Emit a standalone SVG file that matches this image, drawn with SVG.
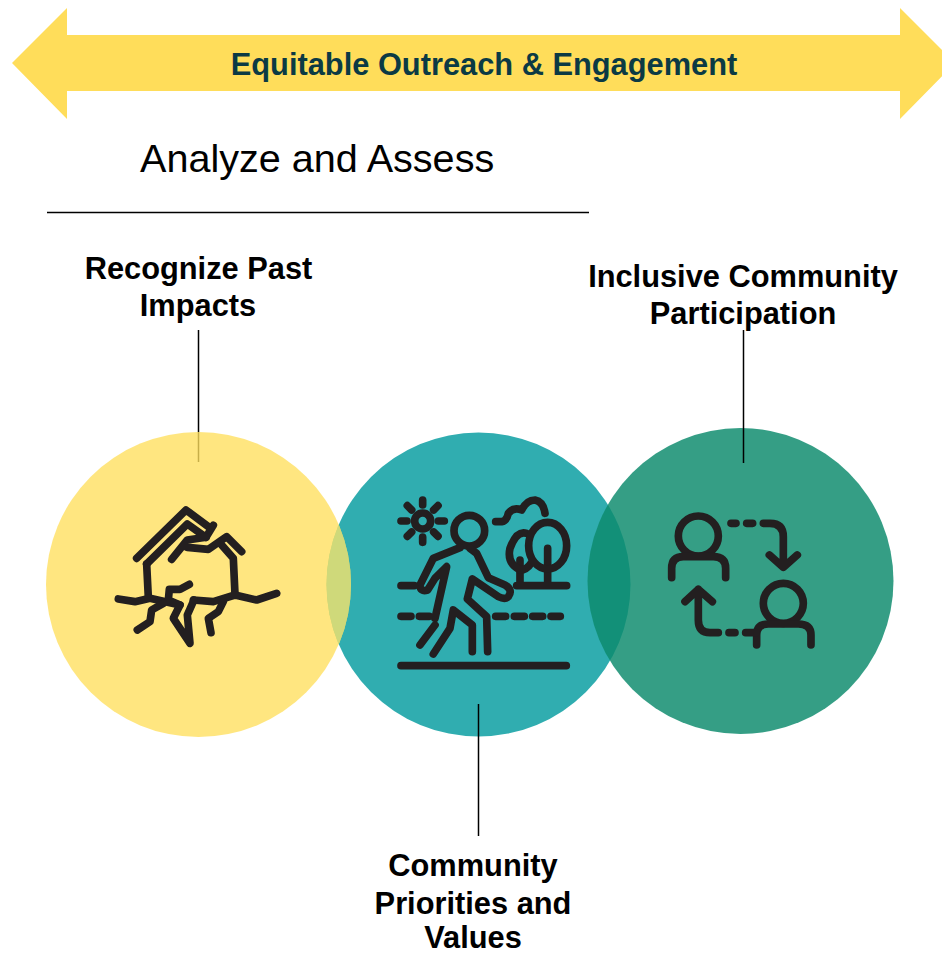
<svg xmlns="http://www.w3.org/2000/svg" width="942" height="954" viewBox="0 0 942 954">
<style>
text{font-family:"Liberation Sans",Arial,sans-serif}
.l{font-size:30.8px;font-weight:700;fill:#000;text-anchor:middle}
.i{fill:none;stroke:#231f20;stroke-width:23;stroke-linecap:round;stroke-linejoin:round}
.c{stroke:#000;stroke-width:1.5;fill:none}
</style>
<defs>
<clipPath id="teal"><circle cx="478.500" cy="584.500" r="152"/></clipPath>
</defs>
<rect width="942" height="954" fill="#fff"/>
<g id="banner">
<polygon points="12,63 67,8 67,35 900,35 900,8 955,63 900,119 900,91 67,91 67,119" fill="#ffdd5a"/>
<text x="484" y="75" font-size="30.8" font-weight="700" fill="#0b3a44" text-anchor="middle">Equitable Outreach &amp; Engagement</text>
</g>
<g id="heading">
<text x="140" y="172" font-size="39.6" fill="#000">Analyze and Assess</text>
<line x1="47" y1="212.500" x2="589" y2="212.500" stroke="#000" stroke-width="1.500"/>
</g>
<g id="node-priorities">
<circle cx="478.500" cy="584.500" r="152" fill="#30adb0"/>
<g class="i" transform="translate(385 485) scale(.3333)">
<circle cx="113" cy="108" r="24"/>
<path d="M113 45V60M113 156V172M48 108H66M160 108H178M67 62L80 75M146 141L159 154M159 62L146 75M80 141L67 154"/>
<circle cx="253" cy="137" r="46"/>
<path d="M225 188L145 220L105 300Q105 322 128 315L150 280L185 245L150 400"/>
<path d="M255 190L275 205L310 278L360 300Q385 315 370 335Q360 345 340 335L262 282L247 342L305 395L308 500"/>
<path d="M105 480L150 420"/>
<path d="M145 507L195 430L205 375L262 420L262 500"/>
<path d="M332 110H350Q365 108 370 85Q385 65 410 75Q425 45 450 45Q475 50 480 85"/>
<path d="M405 225V300M488 190V300M395 302H545"/>
<path d="M425 145Q395 135 375 190Q365 235 405 255Q425 255 438 235"/>
<ellipse cx="488" cy="182" rx="57" ry="70"/>
<path d="M48 302H88M48 394H78M103 394H133M332 394H362M388 394H418M443 394H473M498 394H526M48 542H544"/>
</g>
</g>
<g id="node-participation">
<circle cx="740.500" cy="581" r="153" fill="#0c8a6c" fill-opacity=".83"/>
<g class="i" transform="translate(655 500) scale(.3333)">
<circle cx="130" cy="108" r="60"/>
<path d="M50 233V205Q50 170 85 170H175Q212 170 212 205V233"/>
<circle cx="385" cy="310" r="60"/>
<path d="M305 435V405Q305 372 340 372H430Q468 372 468 405V435"/>
<path d="M228 70H243M275 70H293M325 70H345Q385 70 385 110V200M343 165L385 202L427 165"/>
<path d="M302 398H272M240 398H222M190 398H165Q130 398 130 360V268M90 305L130 268L172 305"/>
</g>
</g>
<g id="connectors">
<line class="c" x1="198.500" y1="330" x2="198.500" y2="462"/>
<line class="c" x1="478.500" y1="704" x2="478.500" y2="836"/>
<line class="c" x1="743.500" y1="330" x2="743.500" y2="463"/>
</g>
<g id="node-impacts">
<circle cx="198.500" cy="584.500" r="152.500" fill="#ffdf5c" fill-opacity=".78"/>
<circle cx="198.500" cy="584.500" r="152.500" fill="#cfd97a" clip-path="url(#teal)"/>
<g class="i" transform="translate(100 490) scale(.3333)">
<path d="M110 205L258 60L325 110"/>
<path d="M140 222L262 102L318 142L340 106"/>
<path d="M318 142L262 150L215 208M262 172L325 178L380 140L425 185M365 165L400 205L405 312M140 222L145 322"/>
<path d="M55 327L105 335L150 325L240 345M280 330L340 335L405 315L470 330L530 310"/>
<path d="M268 283L240 298L208 298L205 330L240 345L220 385L270 460L262 375L282 330"/>
<path d="M190 340L155 360L150 395L112 420M370 335L355 365L325 385L333 428"/>
</g>
</g>
<g id="labels">
<text class="l" x="198.500" y="279">Recognize Past</text>
<text class="l" x="198" y="316">Impacts</text>
<text class="l" x="743" y="287">Inclusive Community</text>
<text class="l" x="743" y="324">Participation</text>
<text class="l" x="473" y="876">Community</text>
<text class="l" x="473" y="914">Priorities and</text>
<text class="l" x="473" y="948">Values</text>
</g>
</svg>
